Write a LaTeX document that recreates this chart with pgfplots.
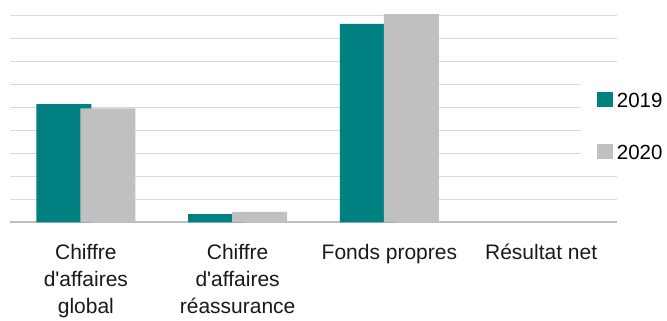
\documentclass[border=0pt]{standalone}
\usepackage{pgfplots}
\pgfplotsset{compat=1.18}
\usepackage{fontspec}
\setmainfont{Liberation Sans}
\definecolor{teal19}{HTML}{008080}
\definecolor{gray20}{HTML}{C0C0C0}
\definecolor{gridc}{HTML}{D9D9D9}
\definecolor{basec}{HTML}{BFBFBF}
\begin{document}
\begin{tikzpicture}
\useasboundingbox (0,0) rectangle (667bp,321bp);
\begin{axis}[
  at={(10bp,98.7bp)}, anchor=south west,
  width=607bp, height=222.3bp, scale only axis,
  xmin=-0.5, xmax=3.5, ymin=0, ymax=9.68,
  xtick={0,1,2,3},
  xticklabels={{Chiffre\\d\textquotesingle affaires\\global},{Chiffre\\d\textquotesingle affaires\\réassurance},{Fonds propres},{Résultat net}},
  xticklabel style={align=center, inner sep=0pt, yshift=-21.5bp, font=\fontsize{21bp}{27bp}\selectfont, text=black!90},
  ytick={1,...,9}, yticklabels={},
  extra y ticks={0}, extra y tick labels={},
  extra y tick style={ymajorgrids, grid style={basec, line width=1.6bp}},
  major tick length=0pt,
  ymajorgrids, grid style={gridc, line width=1bp},
  axis line style={draw=none},
  legend style={at={(0.9407,0.4346)}, anchor=west, draw=none, fill=white,
    inner xsep=15.7bp, inner ysep=17bp, row sep=37bp,
    font=\fontsize{20.5bp}{24bp}\selectfont,
    nodes={inner sep=0pt, anchor=west, text height=14.7bp, text depth=0pt},
    /tikz/every odd column/.style={column sep=4bp}},
  legend cell align=left,
  clip=false,
]
\addplot[ybar, bar width=55bp, bar shift=-22bp, fill=teal19, draw=none,
  legend image code/.code={\fill[teal19] (0bp,-7.5bp) rectangle (16bp,7.5bp);}]
  coordinates {(0,5.15) (1,0.36) (2,8.64)};
\addlegendentry{2019}
\addplot[ybar, bar width=55bp, bar shift=22bp, fill=gray20, draw=none,
  legend image code/.code={\fill[gray20] (0bp,-7.5bp) rectangle (16bp,7.5bp);}]
  coordinates {(0,4.96) (1,0.45) (2,9.07)};
\addlegendentry{2020}
\end{axis}
\end{tikzpicture}
\end{document}
